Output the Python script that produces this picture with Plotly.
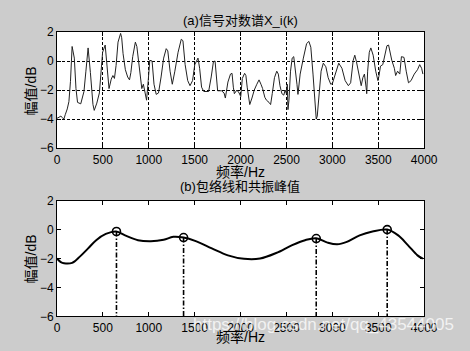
import plotly.graph_objects as go

# ---- data: (a) log spectrum ----
freq_a = [0, 20, 42, 60, 75, 90, 112, 130, 147, 165, 189, 207, 224, 259, 294, 315, 339,
          364, 392, 406, 434, 462, 497, 525, 549, 567, 591, 609, 626, 644, 665, 693,
          705, 720, 745, 770, 790, 805, 825, 854, 870, 899, 924, 941, 958, 976, 994,
          1011, 1036, 1057, 1081, 1106, 1134, 1162, 1190, 1207, 1232, 1256, 1284, 1319,
          1354, 1372, 1396, 1424, 1449, 1477, 1501, 1522, 1536, 1554, 1575, 1599, 1652,
          1680, 1704, 1722, 1739, 1750, 1792, 1820, 1834, 1862, 1890, 1907, 1921, 1932,
          1960, 1984, 2002, 2019, 2044, 2058, 2072, 2100, 2124, 2149, 2177, 2201, 2222,
          2240, 2264, 2282, 2310, 2327, 2345, 2369, 2394, 2411, 2429, 2450, 2471, 2485,
          2499, 2509, 2516, 2527, 2544, 2562, 2579, 2597, 2614, 2625, 2649, 2684, 2719,
          2744, 2765, 2789, 2807, 2824, 2835, 2849, 2877, 2901, 2929, 2954, 2982, 3000,
          3034, 3069, 3104, 3139, 3174, 3199, 3227, 3244, 3262, 3290, 3314, 3332, 3349,
          3367, 3374, 3384, 3402, 3419, 3444, 3472, 3496, 3507, 3524, 3549, 3570, 3594,
          3612, 3647, 3675, 3689, 3710, 3734, 3752, 3780, 3804, 3829, 3857, 3892, 3927,
          3951, 3972, 3986]
level_a = [-3.95, -3.85, -3.8, -3.9, -4.0, -3.7, -3.3, -2.8, -1.4, 1.0, 0.2, -1.9, -2.85,
           -2.95, -2.1, -0.7, 0.9, -0.8, -3.0, -3.4, -2.9, -2.2, 0.6, 1.1, -0.7, -1.9, -1.25,
           -1.0, -1.2, -0.3, 1.3, 1.9, 1.6, 0.5, -0.6, -1.1, -1.3, -0.8, 0.3, 1.3, 1.0, -0.6,
           -1.9, -1.6, -2.1, -2.7, -1.35, 0.05, 0.0, -1.6, -2.3, -2.2, -1.1, 0.2, 0.85, 0.7,
           -0.7, -1.6, -0.7, 0.6, 1.5, 1.4, -0.25, -1.35, -1.7, -1.35, -0.25, 0.05, 0.2,
           -0.5, -1.8, -2.1, -2.1, -1.1, -0.05, 0.0, -1.1, -2.05, -2.05, -2.2, -2.55, -1.45,
           -0.9, -0.85, -1.8, -2.25, -2.0, -2.2, -2.45, -1.2, -0.85, -1.0, -1.8, -3.0, -2.55,
           -2.0, -1.6, -1.3, -1.6, -1.9, -2.5, -2.7, -2.85, -3.0, -2.25, -1.15, -0.7, -0.9,
           -1.7, -2.25, -2.35, -2.0, -2.25, -1.6, -3.35, -2.7, -0.7, 0.2, 0.3, -0.5, -1.6,
           -2.3, -0.9, 0.2, 1.2, 1.35, 0.95, -0.9, -2.7, -4.0, -3.8, -2.7, -0.7, -0.15, -0.4,
           -1.15, -1.6, -1.55, -0.9, -0.15, -0.5, -1.35, -1.7, -1.5, 0.05, 0.4, -0.05, -1.05,
           -1.7, -1.15, -0.9, -1.8, -2.25, -0.7, 0.6, 0.9, 0.4, -0.7, -1.35, -1.05, -0.35,
           -0.25, 0.4, 1.05, 1.1, 0.05, -0.5, -1.0, -0.7, -0.9, 0.3, 0.25, -0.7, -1.5, -1.35,
           -0.9, -0.6, -0.25, -0.5, -0.9]

# ---- data: (b) envelope and formant peaks ----
freq_b = [0, 42, 77, 165, 252, 339, 427, 532, 644, 742, 882, 1022, 1162, 1267, 1379, 1512,
          1687, 1862, 2037, 2212, 2387, 2562, 2702, 2824, 2947, 3052, 3157, 3297, 3437,
          3597, 3717, 3822, 3927, 3985]
level_b = [-2.0, -2.25, -2.33, -2.3, -1.85, -1.3, -0.73, -0.3, -0.13, -0.4, -0.73, -0.8,
           -0.7, -0.5, -0.55, -0.8, -1.3, -1.78, -2.02, -2.0, -1.62, -1.07, -0.73, -0.6,
           -0.9, -1.02, -0.85, -0.4, -0.13, 0.0, -0.4, -1.07, -1.78, -2.0]
peak_freq = [648, 1379, 2824, 3597]
peak_level = [-0.13, -0.55, -0.62, 0.0]

x_ticks = [0, 500, 1000, 1500, 2000, 2500, 3000, 3500, 4000]
y_ticks = [-6, -4, -2, 0, 2]

FONT = "Arial, 'Liberation Sans', 'Noto Sans CJK SC', sans-serif"
BG = "#cccccc"

fig = go.Figure()
fig.add_trace(go.Scatter(x=freq_a, y=level_a, mode="lines",
                         line=dict(color="#222222", width=1), xaxis="x", yaxis="y",
                         showlegend=False, hoverinfo="skip"))

vx, vy = [], []
for f, v in zip(peak_freq, peak_level):
    vx += [f, f, None]
    vy += [v, -6, None]
fig.add_trace(go.Scatter(x=vx, y=vy, mode="lines",
                         line=dict(color="black", width=1.6, dash="5px,2px,1.5px,2px"),
                         xaxis="x2", yaxis="y2", showlegend=False, hoverinfo="skip"))
fig.add_trace(go.Scatter(x=freq_b, y=level_b, mode="lines",
                         line=dict(color="black", width=2, shape="spline"),
                         xaxis="x2", yaxis="y2", showlegend=False, hoverinfo="skip"))
fig.add_trace(go.Scatter(x=peak_freq, y=peak_level, mode="markers",
                         marker=dict(symbol="circle-open", size=8, color="black",
                                     line=dict(width=1.6)),
                         xaxis="x2", yaxis="y2", showlegend=False, hoverinfo="skip"))

W, H = 470, 351
xd = [56 / W, 437 / W]
y1d = [1 - 147 / H, 1 - 26 / H]
y2d = [1 - 322.3 / H, 1 - 201.7 / H]

def xaxis(anchor, grid):
    return dict(domain=xd, anchor=anchor, range=[0, 4000], tickvals=x_ticks,
                ticks="inside", ticklen=4, tickcolor="black", mirror="ticks",
                showline=True, linecolor="black", linewidth=1,
                showgrid=grid, gridcolor="black", gridwidth=1, griddash="3px,2px",
                zeroline=False, tickfont=dict(family=FONT, size=12, color="black"))

def yaxis(anchor, dom, grid):
    return dict(domain=dom, anchor=anchor, range=[-6, 2], tickvals=y_ticks,
                ticks="inside", ticklen=4, tickcolor="black", mirror="ticks",
                showline=True, linecolor="black", linewidth=1,
                showgrid=grid, gridcolor="black", gridwidth=1, griddash="3px,2px",
                zeroline=False, tickfont=dict(family=FONT, size=12, color="black"))

ann = []
def text(x, y, s, size=13, angle=0, color="black"):
    ann.append(dict(x=x / W, y=1 - y / H, xref="paper", yref="paper", text=s,
                    showarrow=False, textangle=angle, xanchor="center", yanchor="middle",
                    font=dict(family=FONT, size=size, color=color)))

text(246, 14, "(a)信号对数谱X_i(k)")
text(246, 172, "频率/Hz", size=14)
text(29, 87, "幅值/dB", size=14, angle=-90)
text(246, 187, "(b)包络线和共振峰值")
text(246, 344, "频率/Hz", size=14)
text(29, 262, "幅值/dB", size=14, angle=-90)
text(333, 331, "https://blog.csdn.net/qq_43544005", size=17,
     color="rgba(255,255,255,0.75)")

fig.update_layout(
    width=W, height=H, margin=dict(l=0, r=0, t=0, b=0),
    paper_bgcolor=BG, plot_bgcolor="white",
    xaxis=xaxis("y", True), yaxis=yaxis("x", y1d, True),
    xaxis2=xaxis("y2", False), yaxis2=yaxis("x2", y2d, False),
    annotations=ann, showlegend=False,
)
fig.write_html("out.html")
